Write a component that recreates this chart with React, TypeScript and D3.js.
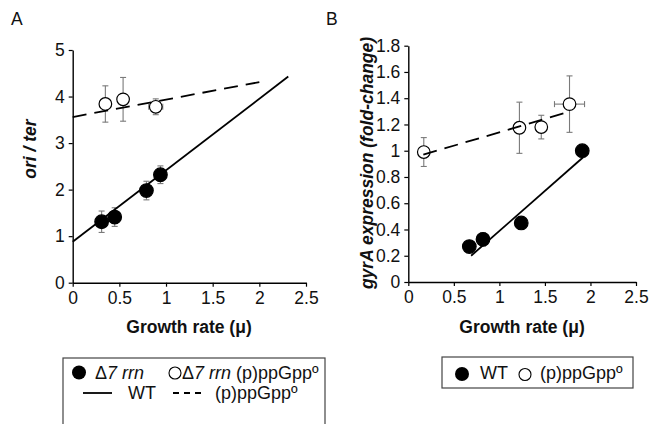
import React, { useEffect, useRef } from "react";
import * as d3 from "d3";

// ---------- Data ----------
const xTicks = [0, 0.5, 1, 1.5, 2, 2.5];
const xTickLabels = ["0", "0.5", "1", "1.5", "2", "2.5"];
const aYTicks = [0, 1, 2, 3, 4, 5];
const bYTicks = [0, 0.2, 0.4, 0.6, 0.8, 1, 1.2, 1.4, 1.6, 1.8];
const bYTickLabels = ["0", "0.2", "0.4", "0.6", "0.8", "1", "1.2", "1.4", "1.6", "1.8"];

// Panel A: Δ7 rrn (filled) and Δ7 rrn (p)ppGpp0 (open)
const aFilledX = [0.31, 0.45, 0.79, 0.94];
const aFilledY = [1.31, 1.41, 1.98, 2.32];
const aFilledErrY = [0.23, 0.2, 0.2, 0.19];
const aOpenX = [0.35, 0.54, 0.89];
const aOpenY = [3.84, 3.94, 3.78];
const aOpenErrY = [0.39, 0.47, 0.17];
const aOpenErrX = [0, 0, 0.075];
const aSolidLineX = [0, 2.31];
const aSolidLineY = [0.88, 4.43];
const aDashLineX = [0, 2.0];
const aDashLineY = [3.56, 4.31];

// Panel B: WT (filled) and (p)ppGpp0 (open)
const bFilledX = [0.67, 0.82, 1.24, 1.91];
const bFilledY = [0.27, 0.325, 0.45, 1.0];
const bFilledErrY = [0, 0.05, 0, 0];
const bOpenX = [0.17, 1.22, 1.46, 1.77];
const bOpenY = [0.99, 1.175, 1.18, 1.355];
const bOpenErrY = [0.11, 0.195, 0.09, 0.215];
const bOpenErrX = [0, 0, 0, 0.165];
const bSolidLineX = [0.69, 1.92];
const bSolidLineY = [0.2, 0.95];
const bDashLineX = [0.165, 1.78];
const bDashLineY = [0.97, 1.3];

const FONT = "'Liberation Sans', Arial, sans-serif";
const FS = 17.5;

type Panel = {
  g: d3.Selection<SVGGElement, unknown, null, undefined>;
  x: d3.ScaleLinear<number, number>;
  y: d3.ScaleLinear<number, number>;
};

function drawAxes(p: Panel, yTicks: number[], yLabels: string[]) {
  const { g, x, y } = p;
  const xa = g
    .append("g")
    .attr("transform", `translate(0,${y(0)})`)
    .call(
      d3
        .axisBottom(x)
        .tickValues(xTicks)
        .tickFormat((_d, i) => xTickLabels[i])
        .tickSizeInner(4)
        .tickSizeOuter(0)
        .tickPadding(5)
    );
  const ya = g
    .append("g")
    .attr("transform", `translate(${x(0)},0)`)
    .call(
      d3
        .axisLeft(y)
        .tickValues(yTicks)
        .tickFormat((_d, i) => yLabels[i])
        .tickSizeInner(4)
        .tickSizeOuter(0)
        .tickPadding(4)
    );
  [xa, ya].forEach((a) => {
    a.attr("font-size", null).attr("font-family", null);
    a.select(".domain").attr("stroke", "#000").attr("stroke-width", 1.4);
    a.selectAll(".tick line").attr("stroke", "#000").attr("stroke-width", 1.2);
    a.selectAll("text")
      .style("font-family", FONT)
      .style("font-size", `${FS}px`)
      .attr("fill", "#111");
  });
}

function drawSeries(
  p: Panel,
  xs: number[],
  ys: number[],
  errY: number[],
  errX: number[] | null,
  filled: boolean,
  r: number
) {
  const { g, x, y } = p;
  const eb = g.append("g").attr("stroke", "#7a7a7a").attr("stroke-width", 1.1);
  xs.forEach((xv, i) => {
    const ey = errY[i];
    if (ey > 0) {
      eb.append("line").attr("x1", x(xv)).attr("x2", x(xv)).attr("y1", y(ys[i] - ey)).attr("y2", y(ys[i] + ey));
      [ys[i] - ey, ys[i] + ey].forEach((v) =>
        eb.append("line").attr("x1", x(xv) - 3).attr("x2", x(xv) + 3).attr("y1", y(v)).attr("y2", y(v))
      );
    }
    const ex = errX ? errX[i] : 0;
    if (ex > 0) {
      eb.append("line").attr("x1", x(xv - ex)).attr("x2", x(xv + ex)).attr("y1", y(ys[i])).attr("y2", y(ys[i]));
      [xv - ex, xv + ex].forEach((v) =>
        eb.append("line").attr("x1", x(v)).attr("x2", x(v)).attr("y1", y(ys[i]) - 3).attr("y2", y(ys[i]) + 3)
      );
    }
  });
  g.append("g")
    .selectAll("circle")
    .data(xs)
    .join("circle")
    .attr("cx", (d) => x(d))
    .attr("cy", (_d, i) => y(ys[i]))
    .attr("r", r)
    .attr("fill", filled ? "#000" : "#fff")
    .attr("stroke", "#000")
    .attr("stroke-width", 1.2);
}

function drawLine(p: Panel, xs: number[], ys: number[], dashed: boolean) {
  const { g, x, y } = p;
  const line = d3
    .line<number>()
    .x((d) => x(d))
    .y((_d, i) => y(ys[i]));
  g.append("path")
    .attr("d", line(xs) as string)
    .attr("fill", "none")
    .attr("stroke", "#000")
    .attr("stroke-width", 1.8)
    .attr("stroke-dasharray", dashed ? "14,8" : null);
}

export default function App() {
  const ref = useRef<SVGGElement>(null);

  useEffect(() => {
    const svg = d3.select(ref.current);
    svg.selectAll("*").remove();

    // Panel A
    const gA = svg.append("g");
    const pA: Panel = {
      g: gA,
      x: d3.scaleLinear().domain([0, 2.5]).range([72.7, 306]),
      y: d3.scaleLinear().domain([0, 5]).range([282.7, 50]),
    };
    drawAxes(pA, aYTicks, aYTicks.map(String));
    drawSeries(pA, aFilledX, aFilledY, aFilledErrY, null, true, 6.8);
    drawSeries(pA, aOpenX, aOpenY, aOpenErrY, aOpenErrX, false, 6.3);
    drawLine(pA, aSolidLineX, aSolidLineY, false);
    drawLine(pA, aDashLineX, aDashLineY, true);

    // Panel B
    const gB = svg.append("g");
    const pB: Panel = {
      g: gB,
      x: d3.scaleLinear().domain([0, 2.5]).range([408.3, 636]),
      y: d3.scaleLinear().domain([0, 1.8]).range([282, 45.7]),
    };
    drawAxes(pB, bYTicks, bYTickLabels);
    drawSeries(pB, bFilledX, bFilledY, bFilledErrY, null, true, 6.8);
    drawSeries(pB, bOpenX, bOpenY, bOpenErrY, bOpenErrX, false, 6.3);
    drawLine(pB, bSolidLineX, bSolidLineY, false);
    drawLine(pB, bDashLineX, bDashLineY, true);
  }, []);

  const txt = { fontFamily: FONT, fontSize: FS, fill: "#111" } as const;
  const leg = { fontFamily: FONT, fontSize: 18, fill: "#111" } as const;
  const bold = { ...txt, fontWeight: 700 } as const;

  return (
    <svg
      width={653}
      height={424}
      style={{ position: "absolute", left: 0, top: 0, background: "#fff" }}
    >
      <g ref={ref} />
      {/* panel letters */}
      <text x={11} y={25} style={txt}>A</text>
      <text x={326} y={25} style={txt}>B</text>

      {/* axis titles */}
      <text x={189} y={333} textAnchor="middle" style={bold}>
        Growth rate (μ)
      </text>
      <text x={522} y={333} textAnchor="middle" style={bold}>
        Growth rate (μ)
      </text>
      <text
        transform="translate(36,149) rotate(-90)"
        textAnchor="middle"
        style={{ ...bold, fontStyle: "italic" }}
      >
        ori / ter
      </text>
      <text
        transform="translate(373,163) rotate(-90)"
        textAnchor="middle"
        style={{ ...bold, fontStyle: "italic" }}
      >
        gyrA expression (fold-change)
      </text>

      {/* Legend A */}
      <rect x={63} y={358} width={262} height={80} fill="none" stroke="#444" strokeWidth={1.2} />
      <circle cx={79} cy={372.5} r={7} fill="#000" />
      <text x={95} y={379} style={leg}>
        Δ<tspan fontStyle="italic">7 rrn</tspan>
      </text>
      <circle cx={175} cy={373} r={6} fill="#fff" stroke="#000" strokeWidth={1.1} />
      <text x={182} y={379} style={leg}>
        Δ<tspan fontStyle="italic">7 rrn</tspan> (p)ppGppº
      </text>
      <line x1={83} x2={112} y1={393} y2={393} stroke="#000" strokeWidth={1.8} />
      <text x={128} y={399} style={leg}>WT</text>
      <line x1={173} x2={202} y1={393} y2={393} stroke="#000" strokeWidth={1.8} strokeDasharray="6,5" />
      <text x={215} y={399} style={leg}>(p)ppGppº</text>

      {/* Legend B */}
      <rect x={442} y={357} width={191} height={31} fill="none" stroke="#444" strokeWidth={1.2} />
      <circle cx={462} cy={374} r={7} fill="#000" />
      <text x={480} y={379} style={leg}>WT</text>
      <circle cx={525} cy={374.5} r={6} fill="#fff" stroke="#000" strokeWidth={1.1} />
      <text x={540} y={379} style={leg}>(p)ppGppº</text>
    </svg>
  );
}
